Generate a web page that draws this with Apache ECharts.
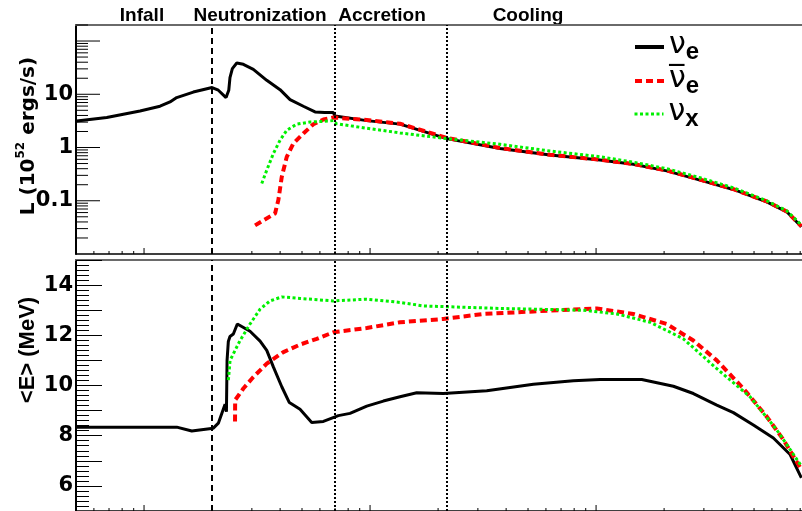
<!DOCTYPE html>
<html><head><meta charset="utf-8">
<script src="https://cdn.jsdelivr.net/npm/echarts@6/dist/echarts.min.js"></script>
<style>html,body{margin:0;padding:0;background:#fff}#c{width:802px;height:511px}</style>
</head><body><div id="c"></div>
<script>
// ---------- data (time, arbitrary log units) ----------
const tL_nue  = [0.504,0.684,0.96,1.177,1.303,1.395,1.652,2.0,2.132,2.306,2.371,2.40,2.459,2.572,2.75,3.045,3.491,3.998,4.426,5.068,5.71,6.3,6.88,7.0,9.67,13.57,21.85,37.59,62.6,104.2,146.2,205.5,288.6,405.1,569.1,698,810];
const L_nue   = [3.15,3.66,4.86,5.96,7.17,8.67,11.0,13.4,11.9,8.67,11.9,20.6,30.4,38.6,36.5,29.4,18.3,12.2,7.95,5.96,4.66,4.54,4.54,3.9,3.2,2.75,1.47,0.96,0.72,0.58,0.486,0.364,0.244,0.163,0.0955,0.062,0.0324];
const tL_anue = [3.099,3.799,3.929,4.068,4.28,4.577,5.068,5.612,6.216,6.88,7.0,9.67,13.57,21.85,37.59,62.6,104.2,146.2,205.5,288.6,405.1,569.1,698,810];
const L_anue  = [0.0345,0.0578,0.103,0.281,0.667,1.19,1.83,2.74,3.35,3.66,3.85,3.3,2.8,1.52,0.98,0.73,0.59,0.49,0.37,0.25,0.165,0.097,0.063,0.033];
const tL_nux  = [3.318,3.491,3.734,3.998,4.28,4.738,5.427,6.3,6.88,7.1,9.67,13.57,21.85,37.59,62.6,104.2,146.2,205.5,288.6,405.1,569.1,698,810];
const L_nux   = [0.211,0.375,0.77,1.37,2.11,2.74,3.02,3.1,3.2,2.8,2.3,1.88,1.47,1.15,0.86,0.67,0.53,0.40,0.27,0.175,0.10,0.0646,0.035];

const tE_nue  = [0.504,1.395,1.626,2.026,2.132,2.283,2.315,2.33,2.36,2.40,2.484,2.587,2.944,3.262,3.491,3.734,4.068,4.395,4.9,5.521,6.216,7.24,8.154,9.67,11.45,13.57,16.09,21.1,32.84,52.8,79.4,104.2,159.3,219.8,269.5,342.1,405.1,496.6,608.9,721.9,810];
const E_nue   = [8.34,8.34,8.19,8.30,8.5,9.25,8.95,11.0,11.75,11.95,12.05,12.45,12.16,11.77,11.4,10.74,9.95,9.32,9.05,8.53,8.57,8.80,8.89,9.18,9.38,9.55,9.71,9.68,9.79,10.05,10.19,10.24,10.24,9.97,9.68,9.22,8.92,8.43,7.91,7.25,6.32];
const tE_anue = [2.527,2.53,2.75,3.045,3.491,4.135,4.9,5.81,6.88,9.67,13.57,21.1,31.72,52.8,100.7,146.2,205.5,269.5,342.1,448.6,569.1,674.3,810];
const E_anue  = [8.57,9.42,9.88,10.34,10.87,11.33,11.63,11.86,12.12,12.29,12.52,12.65,12.85,12.95,13.07,12.85,12.45,11.79,11.0,9.88,8.76,7.84,6.65];
const tE_nux  = [2.361,2.402,2.659,2.944,3.262,3.61,4.068,4.9,6.88,9.67,13.57,17.21,37.59,87.9,123.5,173.4,243.4,342.1,480.1,630.4,810];
const E_nux   = [10.21,11.0,11.79,12.45,13.04,13.37,13.53,13.47,13.37,13.44,13.31,13.17,13.07,13.0,12.85,12.52,11.86,10.67,9.55,8.23,6.79];

const phaseNames  = ['Infall','Neutronization','Accretion','Cooling'];
const phaseBounds = [2, 7, 21.8];

const timeMajorTicks = [1,10,100];
const timeMinorTicks = [0.6,0.7,0.8,0.9,2,3,4,5,6,7,8,9,20,30,40,50,60,70,80,90,200,300,400,500,600,700,800];
const lumMajorTicks  = [0.1,1,10,100];
const lumMinorTicks  = [0.02,0.03,0.04,0.05,0.06,0.07,0.08,0.09,0.2,0.3,0.4,0.5,0.6,0.7,0.8,0.9,2,3,4,5,6,7,8,9,20,30,40,50,60,70,80,90,200];
const lumLabels      = ['0.1','1','10'];
const seriesNames    = ['nue','anue','nux'];

// ---------- chart ----------
const chart = echarts.init(document.getElementById('c'), null, {renderer:'canvas'});
const pairs = (xs, ys) => xs.map((x, i) => [x, ys[i]]);
const T_MIN = 0.5, T_MAX = 815;

function tickSeries(vals, axis, xi, yi, anchor, len) {
  return {
    type: 'custom', xAxisIndex: xi, yAxisIndex: yi, silent: true, z: 5, clip: false,
    data: vals.map(v => axis === 'x' ? [v, anchor] : [anchor, v]),
    renderItem: (params, api) => {
      const p = api.coord([api.value(0), api.value(1)]);
      const shape = axis === 'x'
        ? {x1: p[0], y1: p[1], x2: p[0], y2: p[1] - len}
        : {x1: p[0], y1: p[1], x2: p[0] + len, y2: p[1]};
      return {type: 'line', shape, style: {stroke: '#000', lineWidth: 1}};
    }
  };
}

const styles = {
  nue:  {color: '#000000', width: 3, type: 'solid', legendWidth: 4},
  anue: {color: '#ff0000', width: 4, type: [7, 4], legendWidth: 4},
  nux:  {color: '#00f000', width: 3, type: [3, 2.5], legendWidth: 3}
};
function lineSeries(name, data, xi, yi, extra) {
  return Object.assign({
    name, type: 'line', xAxisIndex: xi, yAxisIndex: yi, data,
    symbol: 'none', showSymbol: false, smooth: false, animation: false,
    lineStyle: {color: styles[name].color, width: styles[name].width, type: styles[name].type},
    itemStyle: {color: styles[name].color}, z: 3
  }, extra || {});
}
function phaseMarkLine() {
  return {
    silent: true, symbol: ['none', 'none'], label: {show: false}, animation: false,
    data: phaseBounds.map((b, i) => ({
      xAxis: b,
      lineStyle: {color: '#000', width: 2, type: i === 0 ? [6, 4] : [2, 2]}
    }))
  };
}

const labelFont = {fontFamily: 'DejaVu Sans', fontWeight: 'bold', fontSize: 21, color: '#000'};

const legendText = {
  nue:  '{nu|ν}{sub|e}',
  anue: '{nu|ν\u0305}{sub|e}',
  nux:  '{nu|ν}{sub|x}'
};
const legendTops = [30, 64, 97];

const option = {
  animation: false,
  backgroundColor: '#fff',
  grid: [
    {left: 76, right: 0, top: 25, height: 229},
    {left: 76, right: 0, top: 260, bottom: -2}
  ],
  xAxis: [
    {type: 'log', gridIndex: 0, min: T_MIN, max: T_MAX, position: 'bottom',
     axisLine: {lineStyle: {color: '#000', width: 1.5}}, axisTick: {show: false},
     axisLabel: {show: false}, splitLine: {show: false}, minorTick: {show: false}},
    {type: 'log', gridIndex: 0, min: T_MIN, max: T_MAX, position: 'top',
     axisLine: {lineStyle: {color: '#6a6a6a', width: 2}}, axisTick: {show: false},
     axisLabel: {show: false}, splitLine: {show: false}},
    {type: 'log', gridIndex: 1, min: T_MIN, max: T_MAX, position: 'bottom',
     axisLine: {lineStyle: {color: '#000', width: 1.5}}, axisTick: {show: false},
     axisLabel: {show: false}, splitLine: {show: false}},
    {type: 'log', gridIndex: 1, min: T_MIN, max: T_MAX, position: 'top',
     axisLine: {lineStyle: {color: '#6a6a6a', width: 2}}, axisTick: {show: false},
     axisLabel: {show: false}, splitLine: {show: false}}
  ],
  yAxis: [
    {type: 'log', gridIndex: 0, min: 0.01, max: 200,
     axisLine: {show: true, lineStyle: {color: '#000', width: 2}}, axisTick: {show: false},
     splitLine: {show: false},
     axisLabel: Object.assign({margin: 3, formatter: v => {
       const s = String(+Number(v).toPrecision(3));
       return lumLabels.includes(s) ? s : '';
     }}, labelFont)},
    {type: 'value', gridIndex: 1, min: 5, max: 15, interval: 1,
     axisLine: {show: true, lineStyle: {color: '#000', width: 2}},
     axisTick: {show: true, inside: true, length: 26, lineStyle: {color: '#000', width: 1}},
     minorTick: {show: true, splitNumber: 5, length: 13, lineStyle: {color: '#000', width: 1}},
     splitLine: {show: false},
     axisLabel: Object.assign({margin: 3, formatter: v => (v % 2 === 0 && v > 5 && v < 15) ? String(v) : ''}, labelFont)}
  ],
  legend: seriesNames.map((n, i) => ({
    data: [n], left: 633, top: legendTops[i], orient: 'vertical', padding: 0,
    itemWidth: 29, itemHeight: 8, itemGap: 0, selectedMode: false,
    itemStyle: {opacity: 0, borderWidth: 0},
    lineStyle: {width: styles[n].legendWidth},
    formatter: name => legendText[name],
    textStyle: {
      rich: {
        nu:  {fontFamily: 'DejaVu Sans', fontSize: 30, lineHeight: 34, color: '#000', verticalAlign: 'top'},
        sub: {fontFamily: 'Liberation Sans', fontWeight: 'bold', fontSize: 24, lineHeight: 2, color: '#000', verticalAlign: 'bottom'}
      }
    }
  })),
  graphic: [
    ...phaseNames.map((name, i) => ({
      type: 'text', x: [142, 260, 382, 528][i], y: 16, silent: true,
      style: {text: name, align: 'center', verticalAlign: 'middle',
              font: 'bold 19px "Liberation Sans", Arial, sans-serif', fill: '#000'}
    })),
    {type: 'text', x: 27, y: 136, rotation: Math.PI / 2, silent: true,
     style: {text: '{a|L (10}{s|52}{a| ergs/s)}', align: 'center', verticalAlign: 'middle',
       rich: {
         a: {fontFamily: 'DejaVu Sans', fontWeight: 'bold', fontSize: 20, lineHeight: 24, fill: '#000', verticalAlign: 'bottom'},
         s: {fontFamily: 'DejaVu Sans', fontWeight: 'bold', fontSize: 12, lineHeight: 24, fill: '#000', verticalAlign: 'top'}
       }}},
    {type: 'text', x: 28, y: 350, rotation: Math.PI / 2, silent: true,
     style: {text: '<E> (MeV)', align: 'center', verticalAlign: 'middle',
       font: 'bold 22px "Liberation Sans", Arial, sans-serif', fill: '#000'}}
  ],
  series: [
    lineSeries('nue',  pairs(tL_nue, L_nue),   0, 0, {markLine: phaseMarkLine()}),
    lineSeries('anue', pairs(tL_anue, L_anue), 0, 0),
    lineSeries('nux',  pairs(tL_nux, L_nux),   0, 0),
    lineSeries('nue',  pairs(tE_nue, E_nue),   2, 1, {markLine: phaseMarkLine()}),
    lineSeries('anue', pairs(tE_anue, E_anue), 2, 1),
    lineSeries('nux',  pairs(tE_nux, E_nux),   2, 1),
    tickSeries(timeMajorTicks, 'x', 0, 0, 0.01, 6),
    tickSeries(timeMinorTicks, 'x', 0, 0, 0.01, 3),
    tickSeries(timeMajorTicks, 'x', 2, 1, 5, 6),
    tickSeries(timeMinorTicks, 'x', 2, 1, 5, 3),
    tickSeries(lumMajorTicks, 'y', 0, 0, T_MIN, 24),
    tickSeries(lumMinorTicks, 'y', 0, 0, T_MIN, 12)
  ]
};
chart.setOption(option);
</script>
</body></html>
